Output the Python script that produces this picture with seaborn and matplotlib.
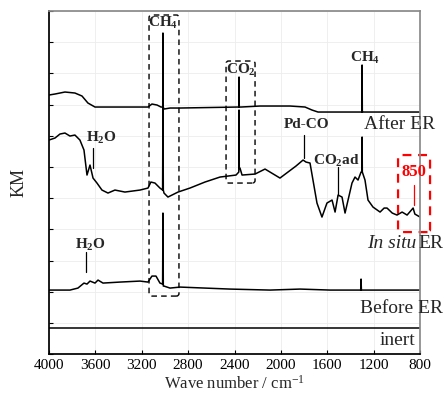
import numpy as np
import pandas as pd
import seaborn as sns
import matplotlib.pyplot as plt
from matplotlib.patches import FancyBboxPatch

# spectra (wave number, KM in arbitrary offset units)
after_wn = [4000, 3948, 3862, 3776, 3715, 3664, 3603, 3388, 3146, 3112, 3068, 3034, 3019, 3017, 3015,
            3008, 2956, 2870, 2370, 2363, 2361, 2359, 2344, 2180, 1921, 1792, 1732, 1680, 1318, 1302,
            1300, 1298, 1292, 800]
after_km = [259, 260, 262, 261, 258, 251, 247, 247, 247, 250, 249, 247, 247, 321, 247,
            245, 246, 246, 247, 247, 277, 247, 247, 248, 248, 247, 244, 242, 242, 242,
            289, 242, 242, 242]

insitu_wn = [4000, 3948, 3905, 3862, 3819, 3776, 3733, 3698, 3672, 3646, 3620, 3586, 3543, 3491,
             3431, 3345, 3215, 3146, 3121, 3086, 3043, 3020, 3017, 3014, 3008, 2974, 2939, 2887,
             2784, 2655, 2525, 2387, 2363, 2361, 2359, 2353, 2335, 2223, 2137, 2008, 1939, 1870,
             1809, 1784, 1749, 1689, 1646, 1603, 1559, 1533, 1507, 1473, 1447, 1387, 1361, 1335,
             1309, 1302, 1300, 1298, 1275, 1249, 1206, 1145, 1110, 1085, 1040, 999, 955, 912,
             860, 845, 800]
insitu_km = [214, 216, 220, 221, 218, 219, 214, 204, 179, 189, 176, 171, 164, 161,
             164, 162, 164, 166, 172, 171, 166, 164, 254, 164, 161, 157, 159, 162,
             166, 172, 177, 179, 182, 244, 186, 186, 179, 180, 185, 176, 182, 188,
             194, 192, 191, 151, 137, 151, 154, 142, 159, 157, 141, 171, 177, 174,
             182, 182, 217, 182, 174, 154, 147, 142, 146, 146, 141, 139, 142, 139,
             146, 140, 137]

before_wn = [4000, 3819, 3750, 3698, 3672, 3646, 3603, 3577, 3534, 3388, 3215, 3146, 3112, 3077,
             3043, 3020, 3017, 3014, 3008, 2956, 2870, 2439, 2094, 1835, 1576, 1312, 1309, 1306, 800]
before_km = [64, 64, 66, 71, 70, 73, 71, 74, 71, 72, 73, 72, 78, 78,
             71, 70, 141, 68, 68, 66, 67, 65, 64, 65, 64, 64, 75, 64, 64]

inert_wn = [4000, 800]
inert_km = [26, 26]

xticks = [4000, 3600, 3200, 2800, 2400, 2000, 1600, 1200, 800]

sns.set_theme(style="ticks")
plt.rcParams['font.family'] = ['Liberation Serif', 'DejaVu Serif']
plt.rcParams['mathtext.fontset'] = 'custom'
plt.rcParams['mathtext.rm'] = 'Liberation Serif'
plt.rcParams['mathtext.it'] = 'Liberation Serif:italic'
plt.rcParams['mathtext.bf'] = 'Liberation Serif:bold'

fig = plt.figure(figsize=(4.45, 3.93), dpi=100)
ax = fig.add_axes([0.110, 0.099, 0.834, 0.873])

for wn, km in [(after_wn, after_km), (insitu_wn, insitu_km), (before_wn, before_km), (inert_wn, inert_km)]:
    sns.lineplot(x=wn, y=km, sort=False, estimator=None, color='black', lw=1.1, ax=ax)

ax.set_xlim(4000, 800)
ax.set_ylim(0, 343)
ax.set_xticks(xticks)
ax.set_xticklabels([str(t) for t in xticks], fontsize=11)
ax.set_yticks(np.linspace(0, 343, 12))
ax.set_yticklabels([])
ax.tick_params(direction='in', length=3, width=0.8, colors='black')
ax.grid(True, color='#ececec', lw=0.6)
for s in ['top', 'right']:
    ax.spines[s].set_color('#8a8a8a')
for s in ['left', 'bottom']:
    ax.spines[s].set_color('black')
ax.set_ylabel('KM', fontsize=13, labelpad=12)
ax.set_xlabel(r'Wave number / cm$^{-1}$', fontsize=12, labelpad=2)

# dashed boxes
asp = 1 / 8.625
for (x0, x1, y0, y1, col, lw) in [(3137, 2879, 58, 339, 'black', 1.0),
                                  (2473, 2223, 171, 293, 'black', 1.0),
                                  (990, 714, 122, 199, 'red', 1.6)]:
    box = FancyBboxPatch((x1, y0), x0 - x1, y1 - y0,
                         boxstyle="round,pad=0,rounding_size=22", mutation_aspect=asp,
                         fill=False, ec=col, ls=(0, (4, 3)), lw=lw, clip_on=False)
    ax.add_patch(box)

bold = dict(fontsize=11, fontweight='bold', ha='center', va='center')
ax.text(3017, 331, r'CH$_\mathbf{4}$', **bold)
ax.text(2345, 284, r'CO$_\mathbf{2}$', **bold)
ax.text(1275, 296, r'CH$_\mathbf{4}$', **bold)
ax.text(3551, 216, r'H$_\mathbf{2}$O', **bold)
ax.plot([3620, 3620], [206, 186], color='black', lw=0.9)
ax.text(1775, 230, 'Pd-CO', **bold)
ax.plot([1800, 1800], [219, 196], color='black', lw=0.9)
ax.text(1525, 193, r'CO$_\mathbf{2}$ad', **bold)
ax.plot([1507, 1507], [187, 159], color='black', lw=0.9)
ax.text(3646, 109, r'H$_\mathbf{2}$O', **bold)
ax.plot([3680, 3680], [102, 82], color='black', lw=0.9)
ax.text(852, 182, '850', color='red', fontsize=12, fontweight='bold', ha='center', va='center')
ax.plot([852, 852], [169, 149], color='red', lw=0.9)

ax.text(981, 230, 'After ER', fontsize=14, ha='center', va='center')
ax.text(834, 111, 'In situ', fontsize=14, style='italic', ha='right', va='center')
ax.text(817, 111, 'ER', fontsize=14, ha='left', va='center')
ax.text(964, 46, 'Before ER', fontsize=14, ha='center', va='center')
ax.text(843, 14, 'inert', fontsize=14, ha='right', va='center')

fig.savefig('out.png', dpi=100)
